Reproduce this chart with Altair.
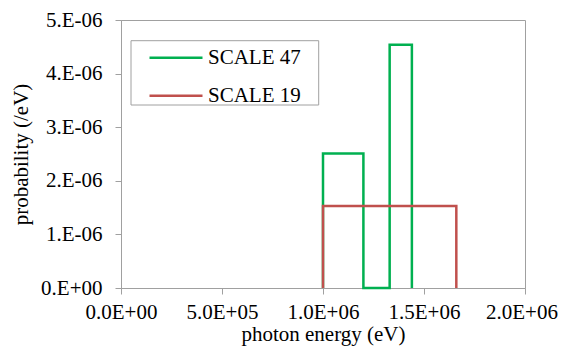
import altair as alt
import pandas as pd

FONT = "Liberation Serif"

series_names = ["SCALE 47", "SCALE 19"]
series_colors = ["#00B050", "#C0504D"]

scale47_edges = [1.0e6, 1.2e6, 1.33e6, 1.44e6]
scale47_values = [2.51e-6, 0.0, 4.54e-6]
scale19_edges = [1.0e6, 1.66e6]
scale19_values = [1.53e-6]

x_tick_values = [0, 500000, 1000000, 1500000, 2000000]
x_tick_labels = ["0.0E+00", "5.0E+05", "1.0E+06", "1.5E+06", "2.0E+06"]
y_tick_values = [0, 1e-6, 2e-6, 3e-6, 4e-6, 5e-6]
y_tick_labels = ["0.E+00", "1.E-06", "2.E-06", "3.E-06", "4.E-06", "5.E-06"]


def steps(name, edges, values):
    pts = [(edges[0], 0.0)]
    for i, v in enumerate(values):
        pts.append((edges[i], v))
        pts.append((edges[i + 1], v))
    pts.append((edges[-1], 0.0))
    return [{"series": name, "energy": e, "prob": p, "order": k} for k, (e, p) in enumerate(pts)]


df47 = pd.DataFrame(steps(series_names[0], scale47_edges, scale47_values))
df19 = pd.DataFrame(steps(series_names[1], scale19_edges, scale19_values))


def label_expr(vals, labels):
    v = "[" + ",".join(repr(x) for x in vals) + "]"
    l = "[" + ",".join("'" + s + "'" for s in labels) + "]"
    return f"{l}[indexof({v}, datum.value)]"


axis_style = dict(
    grid=False,
    domainColor="#a0a0a0",
    tickColor="#a0a0a0",
    tickSize=6,
    labelFont=FONT,
    labelFontSize=21,
    labelColor="black",
    labelOverlap=False,
    labelFlush=False,
    titleFont=FONT,
    titleFontSize=21,
    titleFontWeight="normal",
    titleColor="black",
)

x_enc = alt.X(
    "energy:Q",
    scale=alt.Scale(domain=[0, 2000000], nice=False),
    axis=alt.Axis(
        values=x_tick_values,
        labelExpr=label_expr(x_tick_values, x_tick_labels),
        labelOffset={"condition": {"test": f"datum.value == {x_tick_values[-1]}", "value": -3.5}, "value": 0},
        title="photon energy (eV)",
        titleX=202,
        titleY=52.5,
        titleAlign="center",
        titleBaseline="alphabetic",
        labelPadding=7,
        **axis_style,
    ),
)
y_enc = alt.Y(
    "prob:Q",
    scale=alt.Scale(domain=[0, 5e-6], nice=False),
    axis=alt.Axis(
        values=y_tick_values,
        labelExpr=label_expr(y_tick_values, y_tick_labels),
        title="probability (/eV)",
        titleX=-94,
        titleY=134,
        titleAngle=-90,
        titleAlign="center",
        titleBaseline="alphabetic",
        labelPadding=13,
        **axis_style,
    ),
)
color_enc = alt.Color(
    "series:N",
    scale=alt.Scale(domain=series_names, range=series_colors),
    legend=alt.Legend(
        orient="none",
        legendX=27,
        legendY=9.7,
        title=None,
        symbolType="stroke",
        symbolSize=2809,
        symbolStrokeWidth=2.5,
        labelFont=FONT,
        labelFontSize=21,
        labelColor="black",
        labelOffset=4,
        rowPadding=-6.6,
        padding=0,
    ),
)

box = alt.Chart(alt.Data(values=[{}])).mark_rect(
    fill="white", stroke="#a0a0a0", strokeWidth=1
).encode(x=alt.value(10), x2=alt.value(197.7), y=alt.value(20.7), y2=alt.value(85))

line47 = alt.Chart(df47).mark_line(strokeWidth=2.5).encode(
    x=x_enc, y=y_enc, color=color_enc, order="order:Q"
)
line19 = alt.Chart(df19).mark_line(strokeWidth=2.5).encode(
    x=x_enc, y=y_enc, color=color_enc, order="order:Q"
)

chart = (
    alt.layer(box, line47, line19)
    .properties(
        width=404,
        height=268,
        autosize=alt.AutoSizeParams(type="none"),
        padding={"left": 113, "top": 12, "right": 33, "bottom": 58},
        background="white",
    )
    .configure_view(stroke="#a0a0a0", strokeWidth=1)
)

chart.save("out.html", embed_options={"renderer": "svg", "actions": False})
